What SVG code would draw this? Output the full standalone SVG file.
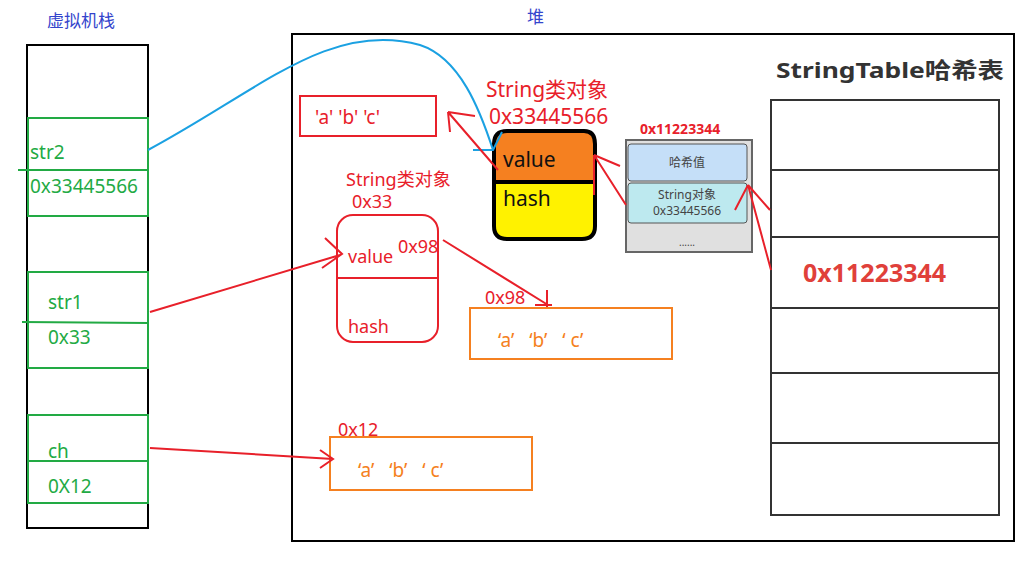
<svg xmlns="http://www.w3.org/2000/svg" width="1032" height="561" viewBox="0 0 1032 561">
<style>
text{font-family:"Noto Sans","Noto Sans CJK SC",sans-serif}
.g{fill:none;stroke:#22aa44;stroke-width:2}
.gt{fill:#22aa44;font-size:19px}
.r{stroke:#e8202a;stroke-width:2;fill:none}
.rt{fill:#e8202a}
.o{fill:none;stroke:#f58020;stroke-width:2}
.ot{fill:#f58020;font-size:19px;white-space:pre}
.tb{fill:none;stroke:#333;stroke-width:2}
</style>
<rect width="1032" height="561" fill="#fff"/>
<g id="stack">
<text x="47" y="27" fill="#3344cc" font-size="17">虚拟机栈</text>
<rect x="27" y="45" width="121" height="483" fill="none" stroke="#000" stroke-width="2"/>
<rect class="g" x="28" y="118" width="120" height="98"/><line class="g" x1="28" y1="170" x2="148" y2="170"/>
<line class="g" x1="18" y1="170" x2="28" y2="170"/>
<text class="gt" x="30" y="159">str2</text><text class="gt" x="30" y="193">0x33445566</text>
<rect class="g" x="28" y="272" width="120" height="96"/><line class="g" x1="22" y1="322" x2="148" y2="323"/>
<text class="gt" x="48" y="309">str1</text><text class="gt" x="48" y="344">0x33</text>
<rect class="g" x="28" y="415" width="120" height="88"/><line class="g" x1="28" y1="461" x2="148" y2="461"/>
<text class="gt" x="48" y="458">ch</text><text class="gt" x="48" y="493">0X12</text>
</g>
<g id="heap">
<text x="527" y="23" fill="#3344cc" font-size="17">堆</text>
<rect x="292" y="34" width="722" height="507" fill="none" stroke="#000" stroke-width="2"/>
</g>
<g id="abc1"><rect class="r" x="300" y="96" width="136" height="40"/><text class="rt" x="315" y="124" font-size="19">'a' 'b' 'c'</text></g>
<g id="strobj1">
<text class="rt" x="486" y="97" font-size="21">String类对象</text><text class="rt" x="489" y="124" font-size="21">0x33445566</text>
<path d="M494 182V144Q494 131 507 131H584Q595 131 595 144V182Z" fill="#f58020" stroke="#000" stroke-width="4"/>
<path d="M494 182H595V226Q595 239 582 239H507Q494 239 494 226Z" fill="#fff200" stroke="#000" stroke-width="4"/>
<text x="503" y="167" font-size="21" fill="#111">value</text><text x="503" y="206" font-size="21" fill="#111">hash</text>
</g>
<g id="hashentry">
<text x="640" y="134" fill="#e8202a" font-size="14" font-weight="bold">0x11223344</text>
<rect x="626" y="140" width="126" height="112" fill="#e0e0e0" stroke="#666" stroke-width="2"/>
<rect x="628" y="144" width="119" height="37" rx="3" fill="#c5dff8" stroke="#555"/>
<rect x="628" y="183" width="119" height="40" rx="3" fill="#bde9ef" stroke="#555"/>
<text x="687" y="167" font-size="12" fill="#444" text-anchor="middle">哈希值</text>
<text x="687" y="199" font-size="12" fill="#444" text-anchor="middle">String对象</text>
<text x="687" y="215" font-size="12" fill="#444" text-anchor="middle">0x33445566</text>
<text x="687" y="246" font-size="10" fill="#444" text-anchor="middle">......</text>
</g>
<g id="strobj2">
<text class="rt" x="346" y="186" font-size="18">String类对象</text><text class="rt" x="352" y="208" font-size="18">0x33</text>
<rect class="r" x="337" y="215" width="101" height="127" rx="16"/><line class="r" x1="337" y1="278" x2="438" y2="278"/>
<text class="rt" x="348" y="263" font-size="18">value</text><text class="rt" x="398" y="253" font-size="18">0x98</text>
<text class="rt" x="348" y="333" font-size="18">hash</text>
</g>
<g id="abc2"><text class="rt" x="485" y="304" font-size="18">0x98</text><rect class="o" x="470" y="308" width="202" height="51"/><text class="ot" x="498" y="347">‘a’   ‘b’   ‘ c’</text></g>
<g id="abc3"><text class="rt" x="338" y="436" font-size="18">0x12</text><rect class="o" x="330" y="437" width="202" height="53"/><text class="ot" x="358" y="477">‘a’   ‘b’   ‘ c’</text></g>
<g id="stringtable">
<text x="776" y="78" font-size="22" font-weight="bold" fill="#333" textLength="228" lengthAdjust="spacingAndGlyphs">StringTable哈希表</text>
<rect class="tb" x="771" y="100" width="228" height="415"/>
<line class="tb" x1="771" y1="170" x2="999" y2="170"/><line class="tb" x1="771" y1="237" x2="999" y2="237"/>
<line class="tb" x1="771" y1="308" x2="999" y2="308"/><line class="tb" x1="771" y1="373" x2="999" y2="373"/>
<line class="tb" x1="771" y1="443" x2="999" y2="443"/>
<text x="803" y="282" font-size="25" font-weight="bold" fill="#e0403a">0x11223344</text>
</g>
<g id="connectors" class="r">
<path d="M148 150C260 90 330 20 420 45C460 58 480 110 493 150" stroke="#1ba1e2"/>
<path d="M473 150H493L502 132" stroke="#1ba1e2"/>
<path d="M150 312L340 255M325 238L342 254L322 268"/>
<path d="M443 240L548 305M535 305H552M547 290V307"/>
<path d="M150 448L333 459M320 450L333 459L320 468"/>
<path d="M498 170L448 112M448 112L475 116M448 112L450 132"/>
<path d="M626 205L594 155M594 155L620 166M594 155L594 195"/>
<path d="M770 210L748 185M748 185L735 210M748 185L771 270"/>
</g>
</svg>
